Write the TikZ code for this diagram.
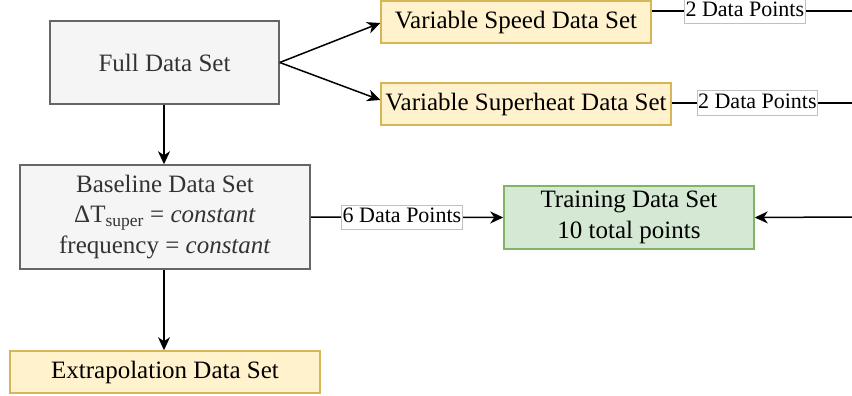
\documentclass[tikz,border=0pt]{standalone}
\usepackage{fontspec}
\setmainfont{Liberation Serif}
\usetikzlibrary{arrows.meta}

\definecolor{grayfill}{HTML}{F5F5F5}
\definecolor{grayline}{HTML}{666666}
\definecolor{graytext}{HTML}{333333}
\definecolor{yelfill}{HTML}{FFF2CC}
\definecolor{yelline}{HTML}{D6B656}
\definecolor{grnfill}{HTML}{D5E8D4}
\definecolor{grnline}{HTML}{82B366}
\definecolor{lblline}{HTML}{C0C0C0}

\tikzset{
  box/.style={draw, line width=1.5pt, inner sep=0pt, align=center,
    font=\fontsize{25}{30.5}\selectfont},
  graybox/.style={box, fill=grayfill, draw=grayline, text=graytext},
  yelbox/.style={box, fill=yelfill, draw=yelline},
  grnbox/.style={box, fill=grnfill, draw=grnline},
  lbl/.style={draw=lblline, fill=white, line width=0.8pt,
    font=\fontsize{22}{26}\selectfont, inner xsep=1pt, inner ysep=1.5pt,
    text height=16.5pt, text depth=5pt},
  link/.style={line width=1.5pt, black},
  arr/.style={link, -{Stealth[length=13pt,width=12pt,inset=4pt]}},
}

\begin{document}
\begin{tikzpicture}[x=1pt,y=-1pt]
  \useasboundingbox (0,0) rectangle (852,396);

  % data set boxes
  \node[graybox, minimum width=229pt, minimum height=83pt] (full) at (164.5,62.5) {Full Data Set};
  \node[yelbox, minimum width=270pt, minimum height=42pt] (vspeed) at (516,22) {Variable Speed Data Set};
  \node[yelbox, minimum width=290pt, minimum height=42pt] (vsuper) at (526,104) {Variable Superheat Data Set};
  \node[graybox, minimum width=290pt, minimum height=104pt] (base) at (165,217)
    {Baseline Data Set\\ ΔT\textsubscript{super} = \textit{constant}\\ frequency = \textit{constant}};
  \node[grnbox, minimum width=250pt, minimum height=63pt] (train) at (629,217.5)
    {Training Data Set\\ 10 total points};
  \node[yelbox, minimum width=310pt, minimum height=42pt] (extra) at (165,372) {Extrapolation Data Set};

  % free ends of the connectors leaving on the right
  \coordinate (r1) at (852,11);
  \coordinate (r2) at (852,103);
  \coordinate (r3) at (852,217);

  % connectors
  \draw[arr] (full.east) -- ([yshift=-1pt]vspeed.west);
  \draw[arr] (full.east) -- ([yshift=4pt]vsuper.west);
  \draw[arr] (full.south -| 164,0) -- (base.north -| 164,0);
  \draw[arr] (base.south -| 164,0) -- (extra.north -| 164,0);
  \draw[arr] (base.east) -- node[lbl, pos=0.474] (l3) {6 Data Points} (train.west);
  \draw[link] ([yshift=11pt]vspeed.east) -- node[lbl, pos=0.465] (l1) {2 Data Points} (r1);
  \draw[link] ([yshift=1pt]vsuper.east) -- node[lbl, pos=0.475] (l2) {2 Data Points} (r2);
  \draw[arr] (r3) -- (train.east);
\end{tikzpicture}
\end{document}
